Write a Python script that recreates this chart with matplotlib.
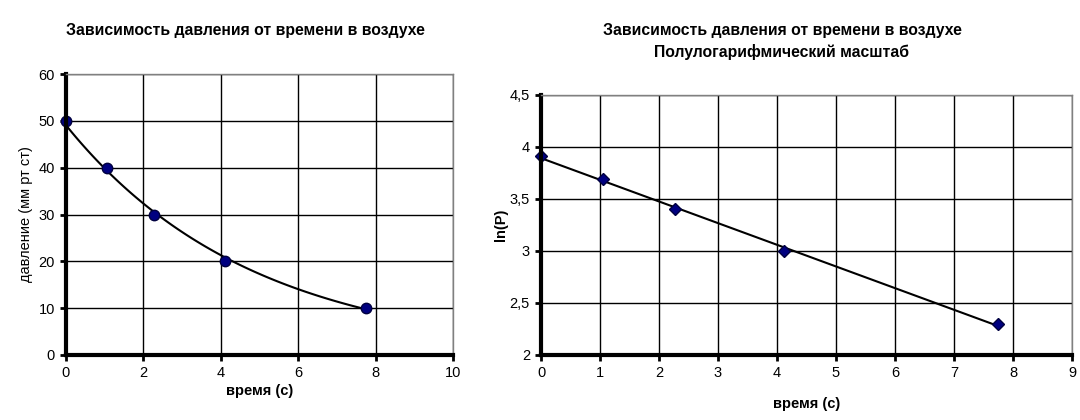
import numpy as np
import matplotlib
matplotlib.use('Agg')
import matplotlib.pyplot as plt

plt.rcParams['font.family'] = ['Liberation Sans', 'DejaVu Sans']

# measured data
time_s = [0, 1.05, 2.27, 4.12, 7.75]
pressure = [50, 40, 30, 20, 10]
ln_p = list(np.log(pressure))

title = 'Зависимость давления от времени в воздухе'
title2 = 'Полулогарифмический масштаб'

# exponential trend = linear fit of ln(P)
k, b = np.polyfit(time_s, ln_p, 1)
t_fit = np.linspace(0, max(time_s), 100)

fig = plt.figure(figsize=(10.8, 4.2), dpi=100)
ax1 = fig.add_axes([66/1080, 1-355/420, (453-66)/1080, (355-74)/420])
ax2 = fig.add_axes([541/1080, 1-355/420, (1072-541)/1080, (355-95)/420])

def excel_style(ax): # thick left/bottom axis, grey top/right border, black grid
    ax.spines['left'].set_linewidth(3)
    ax.spines['bottom'].set_linewidth(3)
    ax.spines['top'].set_color('#808080')
    ax.spines['right'].set_color('#808080')
    ax.spines['top'].set_linewidth(1)
    ax.spines['right'].set_linewidth(1)
    ax.grid(True, color='black', linewidth=1)
    ax.set_axisbelow(True)
    ax.tick_params(direction='out', length=4, width=2, labelsize=10.5, pad=4)
    for s in ax.spines.values():
        s.set_zorder(5)

# left: pressure vs time
ax1.plot(t_fit, np.exp(b + k*t_fit), color='black', linewidth=1.5, zorder=3)
ax1.plot(time_s, pressure, 'o', color='#000080', markersize=7.5,
         markeredgecolor='#000040', zorder=4, clip_on=False)
ax1.set_xlim(0, 10)
ax1.set_ylim(0, 60)
ax1.set_xticks(range(0, 11, 2))
ax1.set_yticks(range(0, 61, 10))
excel_style(ax1)
ax1.set_xlabel('время (с)', fontsize=10.5, fontweight='bold', labelpad=3)
ax1.set_ylabel('давление (мм рт ст)', fontsize=10.5, labelpad=4)
fig.text(245/1080, 1-30/420, title, ha='center', va='center',
         fontsize=11.3, fontweight='bold')

# right: ln(P) vs time
ax2.plot(t_fit, b + k*t_fit, color='black', linewidth=1.5, zorder=3)
ax2.plot(time_s, ln_p, 'D', color='#000080', markersize=6,
         markeredgecolor='#000040', zorder=4, clip_on=False)
ax2.set_xlim(0, 9)
ax2.set_ylim(2, 4.5)
ax2.set_xticks(range(0, 10))
ax2.set_yticks([2, 2.5, 3, 3.5, 4, 4.5])
ax2.set_yticklabels(['2', '2,5', '3', '3,5', '4', '4,5'])
excel_style(ax2)
ax2.set_xlabel('время (с)', fontsize=10.5, fontweight='bold', labelpad=12)
ax2.set_ylabel('ln(P)', fontsize=10.5, fontweight='bold', labelpad=1)
fig.text(782/1080, 1-30/420, title, ha='center', va='center',
         fontsize=11.3, fontweight='bold')
fig.text(782/1080, 1-52/420, title2, ha='center', va='center',
         fontsize=11.3, fontweight='bold')

fig.savefig('out.png', dpi=100, facecolor='white')
